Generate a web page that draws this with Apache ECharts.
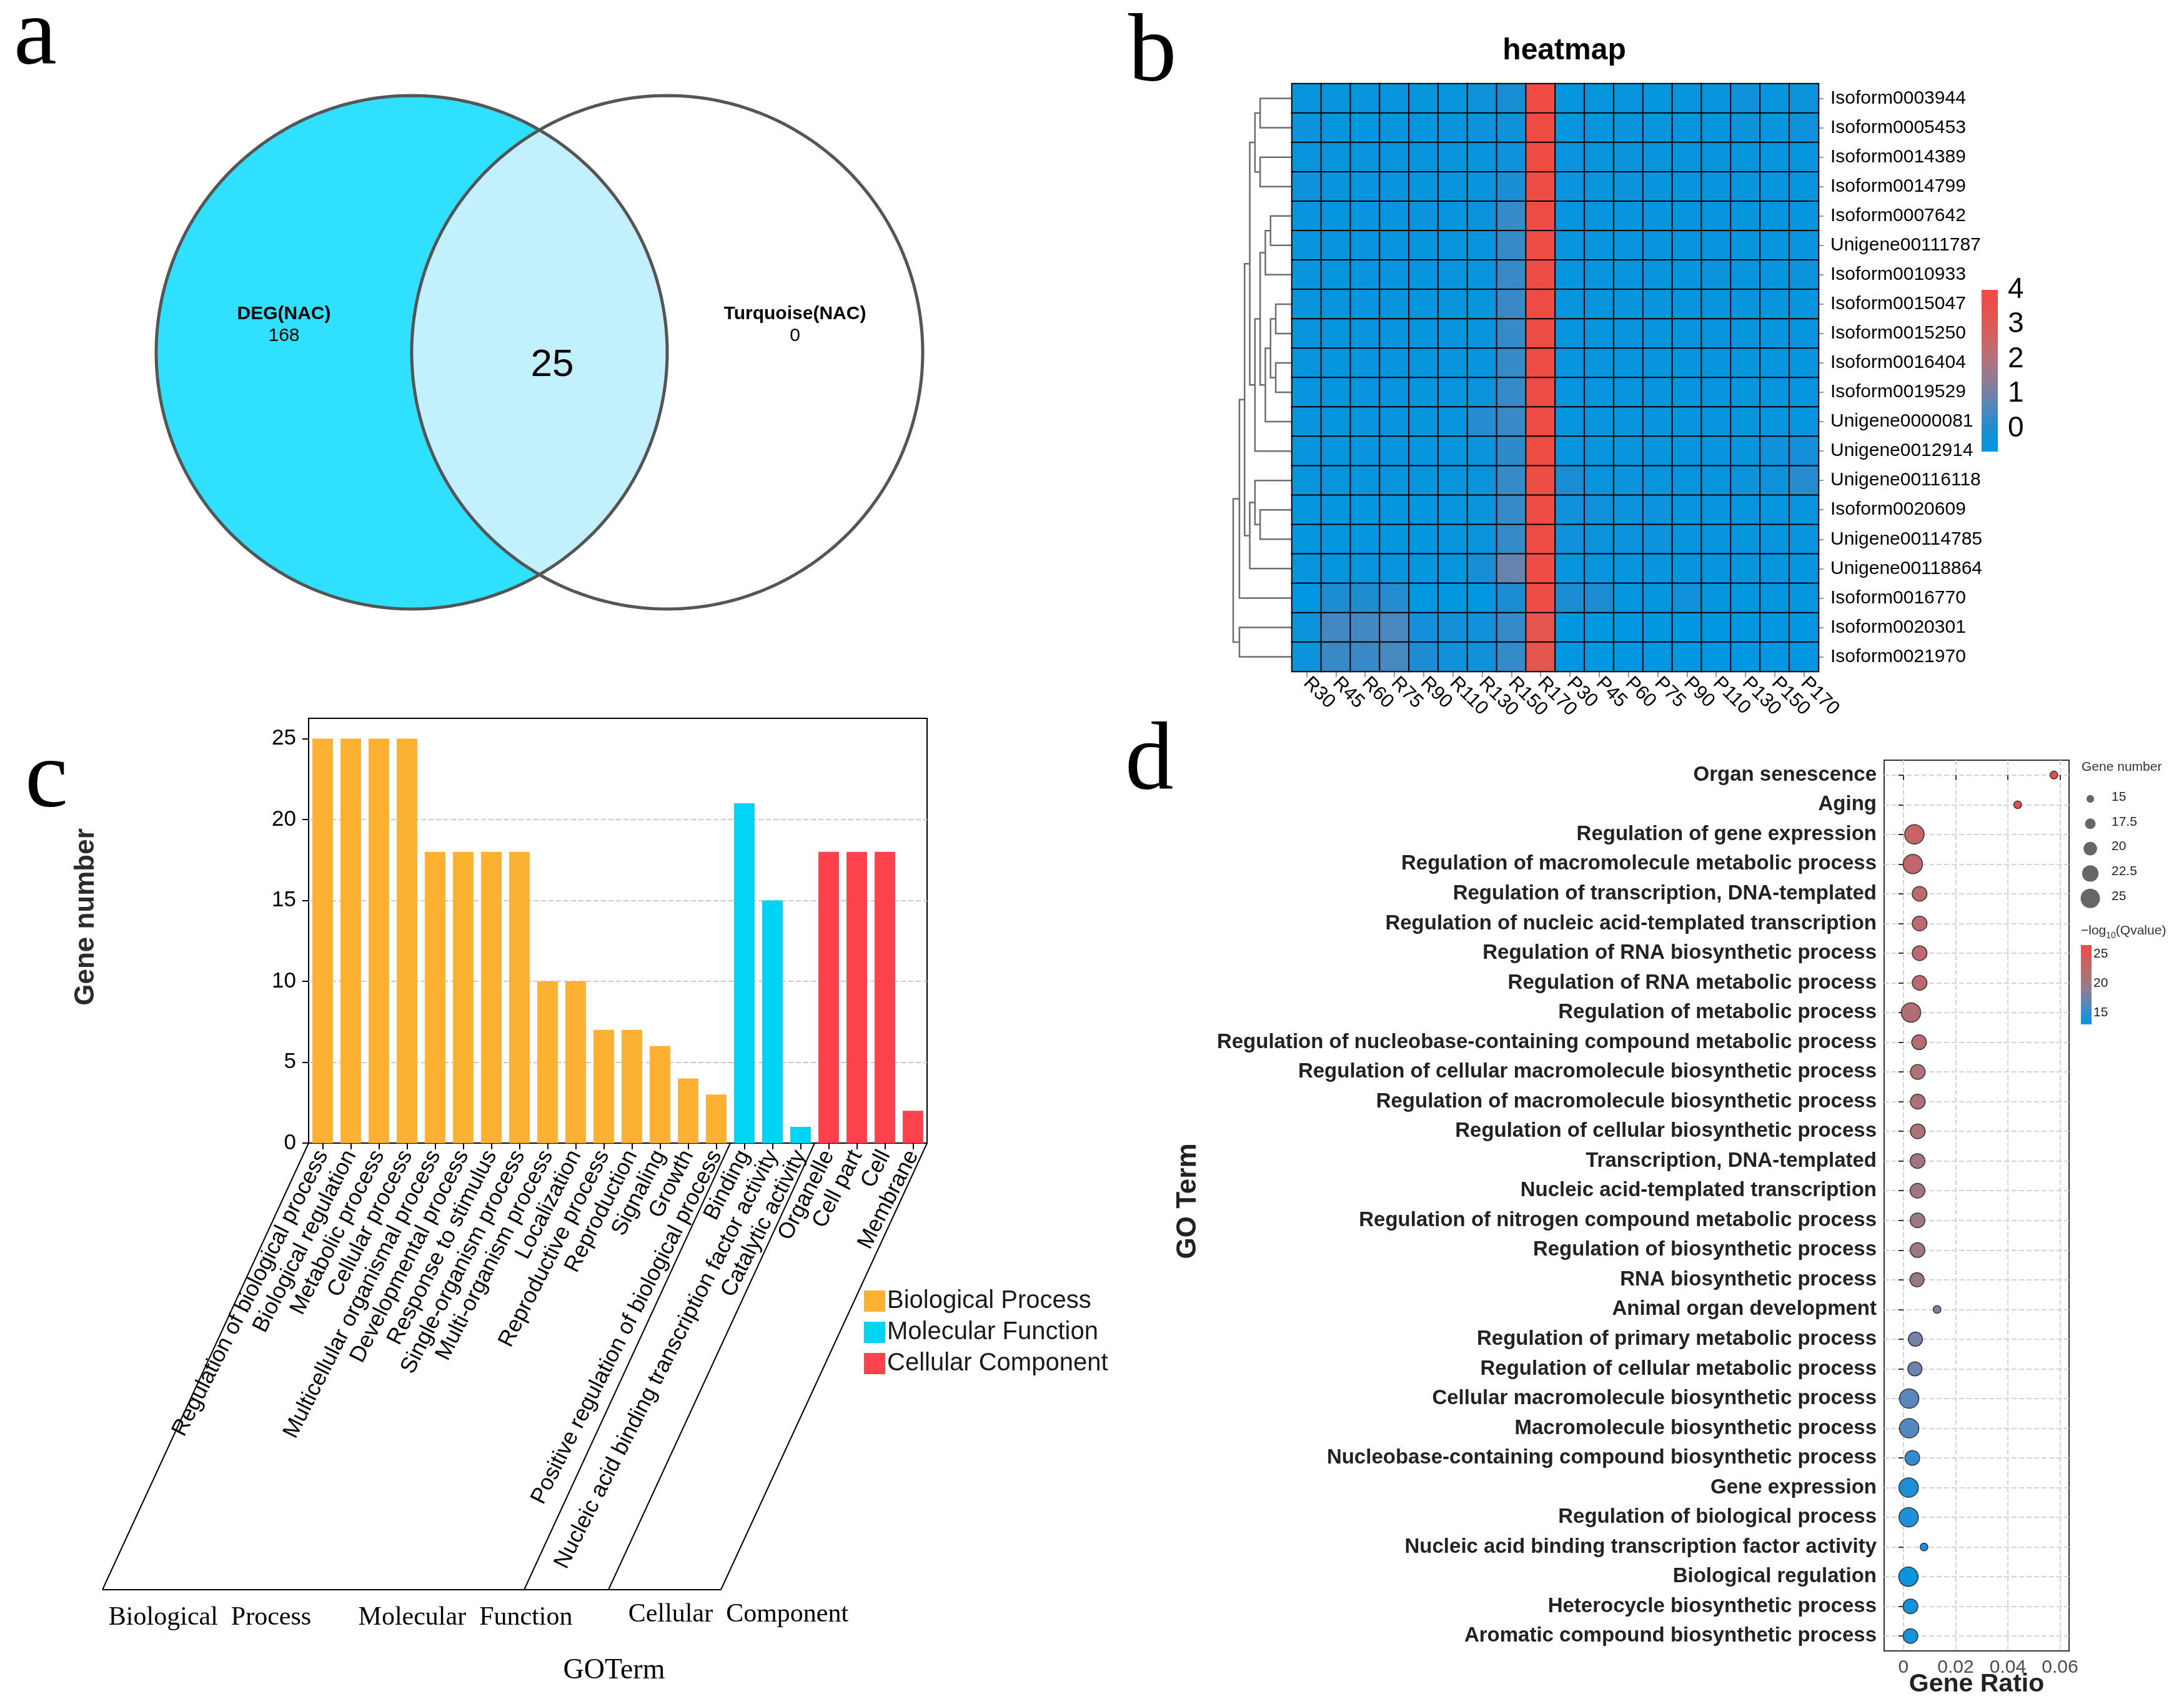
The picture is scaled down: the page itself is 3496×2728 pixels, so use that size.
<!DOCTYPE html>
<html><head><meta charset="utf-8">
<script src="https://cdn.jsdelivr.net/npm/echarts@6/dist/echarts.min.js"></script>
<style>html,body{margin:0;padding:0;background:#fff}#c{width:3496px;height:2728px}</style>
</head><body><div id="c"></div>
<script>
// ================= DATA =================
// (a) Venn
const vennSets = ['DEG(NAC)', 'Turquoise(NAC)'];
const vennOnly = [168, 0];
const vennShared = 25;

// (b) heatmap
const heatCols = ['R30','R45','R60','R75','R90','R110','R130','R150','R170','P30','P45','P60','P75','P90','P110','P130','P150','P170'];
const heatRows = ['Isoform0003944','Isoform0005453','Isoform0014389','Isoform0014799','Isoform0007642','Unigene00111787','Isoform0010933','Isoform0015047','Isoform0015250','Isoform0016404','Isoform0019529','Unigene0000081','Unigene0012914','Unigene00116118','Isoform0020609','Unigene00114785','Unigene00118864','Isoform0016770','Isoform0020301','Isoform0021970'];
const heatValues = [
 [-0.5,-0.5,-0.5,-0.5,-0.5,-0.5,-0.3,-0.1,4.0,-0.5,-0.5,-0.5,-0.55,-0.5,-0.5,-0.3,-0.5,-0.4],
 [-0.4,-0.5,-0.55,-0.5,-0.5,-0.45,-0.35,-0.3,4.0,-0.5,-0.5,-0.4,-0.5,-0.5,-0.5,-0.4,-0.5,-0.3],
 [-0.5,-0.5,-0.5,-0.5,-0.45,-0.5,-0.5,-0.3,4.0,-0.45,-0.5,-0.4,-0.5,-0.5,-0.5,-0.5,-0.5,-0.5],
 [-0.3,-0.5,-0.5,-0.45,-0.5,-0.5,-0.5,-0.05,3.95,-0.45,-0.5,-0.4,-0.5,-0.5,-0.5,-0.5,-0.5,-0.5],
 [-0.5,-0.5,-0.45,-0.5,-0.4,-0.5,-0.35,0.3,3.9,-0.5,-0.5,-0.5,-0.5,-0.5,-0.5,-0.5,-0.5,-0.5],
 [-0.5,-0.5,-0.5,-0.5,-0.5,-0.5,-0.45,0.3,3.9,-0.5,-0.5,-0.5,-0.5,-0.5,-0.5,-0.5,-0.5,-0.5],
 [-0.5,-0.5,-0.5,-0.5,-0.5,-0.5,-0.5,0.35,3.9,-0.5,-0.5,-0.5,-0.5,-0.5,-0.4,-0.5,-0.5,-0.4],
 [-0.5,-0.5,-0.5,-0.5,-0.5,-0.5,-0.5,0.35,3.9,-0.5,-0.45,-0.5,-0.5,-0.5,-0.5,-0.5,-0.5,-0.5],
 [-0.5,-0.5,-0.5,-0.5,-0.5,-0.5,-0.5,0.3,3.9,-0.5,-0.5,-0.45,-0.5,-0.5,-0.5,-0.5,-0.5,-0.5],
 [-0.5,-0.5,-0.5,-0.5,-0.5,-0.5,-0.5,0.3,3.9,-0.5,-0.5,-0.5,-0.5,-0.5,-0.5,-0.5,-0.5,-0.5],
 [-0.5,-0.5,-0.5,-0.5,-0.5,-0.5,-0.35,0.3,3.9,-0.5,-0.5,-0.5,-0.5,-0.5,-0.5,-0.5,-0.5,-0.5],
 [-0.5,-0.5,-0.5,-0.5,-0.5,-0.5,0.1,0.35,3.9,-0.5,-0.5,-0.5,-0.5,-0.5,-0.5,-0.5,-0.5,-0.5],
 [-0.5,-0.5,-0.5,-0.5,-0.5,-0.5,-0.35,0.2,3.9,-0.5,-0.5,-0.45,-0.5,-0.5,-0.5,-0.5,-0.3,-0.2],
 [-0.5,-0.5,-0.5,-0.5,-0.5,-0.5,-0.4,0.3,3.85,-0.05,-0.45,-0.4,-0.45,-0.45,-0.45,-0.35,-0.35,0.1],
 [-0.55,-0.55,-0.55,-0.55,-0.55,-0.5,-0.4,0.3,3.9,-0.25,-0.25,-0.4,-0.4,-0.5,-0.5,-0.5,-0.5,-0.5],
 [-0.55,-0.55,-0.55,-0.55,-0.55,-0.5,-0.4,0.3,3.9,-0.25,-0.4,-0.4,-0.35,-0.5,-0.5,-0.5,-0.5,-0.5],
 [-0.5,-0.5,-0.5,-0.5,-0.5,-0.5,-0.1,0.9,3.85,-0.5,-0.5,-0.5,-0.5,-0.5,-0.5,-0.5,-0.5,-0.5],
 [-0.62,0.0,0.05,0.1,-0.62,-0.62,-0.62,0.0,3.85,0.0,0.0,-0.55,-0.55,-0.25,-0.55,-0.55,-0.55,-0.55],
 [-0.35,0.45,0.45,0.55,-0.2,-0.2,-0.25,0.3,3.3,-0.62,-0.62,-0.62,-0.62,-0.62,-0.62,-0.62,-0.62,-0.62],
 [-0.4,0.35,0.35,0.5,0.0,-0.25,-0.25,0.3,3.3,-0.62,-0.62,-0.62,-0.62,-0.62,-0.62,-0.62,-0.62,-0.62]
];
// hierarchical clustering of rows: [childA, childB, height]; ids >= 20 are earlier merges
const dendroMerges = [
 [0,1,150],[2,3,150],[20,21,175],[4,5,100],[23,6,125],[7,8,75],[9,10,75],[25,26,100],
 [27,11,125],[24,28,150],[29,12,175],[22,30,200],[14,15,150],[13,32,175],[33,16,200],
 [31,34,225],[35,17,250],[18,19,250],[36,37,280]
];
const heatMin = -0.66, heatMax = 4;
const heatLegendTicks = [0,1,2,3,4];

// (c) GO bar chart
const goCats = ['Regulation of biological process','Biological regulation','Metabolic process','Cellular process','Multicellular organismal process','Developmental process','Response to stimulus','Single-organism process','Multi-organism process','Localization','Reproductive process','Reproduction','Signaling','Growth','Positive regulation of biological process','Binding','Nucleic acid binding transcription factor activity','Catalytic activity','Organelle','Cell part','Cell','Membrane'];
const goCounts = [25,25,25,25,18,18,18,18,10,10,7,7,6,4,3,21,15,1,18,18,18,2];
const goGroupOf = [0,0,0,0,0,0,0,0,0,0,0,0,0,0,0,1,1,1,2,2,2,2];
const goGroups = ['Biological Process','Molecular Function','Cellular Component'];
const goYTicks = [0,5,10,15,20,25];

// (d) GO enrichment bubble chart
const termNames = ['Organ senescence','Aging','Regulation of gene expression','Regulation of macromolecule metabolic process','Regulation of transcription, DNA-templated','Regulation of nucleic acid-templated transcription','Regulation of RNA biosynthetic process','Regulation of RNA metabolic process','Regulation of metabolic process','Regulation of nucleobase-containing compound metabolic process','Regulation of cellular macromolecule biosynthetic process','Regulation of macromolecule biosynthetic process','Regulation of cellular biosynthetic process','Transcription, DNA-templated','Nucleic acid-templated transcription','Regulation of nitrogen compound metabolic process','Regulation of biosynthetic process','RNA biosynthetic process','Animal organ development','Regulation of primary metabolic process','Regulation of cellular metabolic process','Cellular macromolecule biosynthetic process','Macromolecule biosynthetic process','Nucleobase-containing compound biosynthetic process','Gene expression','Regulation of biological process','Nucleic acid binding transcription factor activity','Biological regulation','Heterocycle biosynthetic process','Aromatic compound biosynthetic process'];
const termRatio = [0.0577,0.0438,0.0042,0.0036,0.0062,0.0062,0.0062,0.0062,0.0029,0.0060,0.0055,0.0055,0.0055,0.0054,0.0054,0.0054,0.0054,0.0052,0.0129,0.0046,0.0044,0.0022,0.0022,0.0034,0.0020,0.0020,0.0079,0.0019,0.0027,0.0027];
const termGenes = [15,15,25,25,21,21,21,21,25,21,21,21,21,21,21,21,21,20.5,15,20.5,20.5,25,25,21,25,25,15,25,21,21];
const termQ = [26.3,26.0,23.2,22.8,22.3,22.3,22.3,22.2,21.6,21.8,21.0,21.0,20.9,20.3,20.2,19.8,19.8,19.7,18.2,17.8,17.3,16.6,16.4,15.3,14.4,14.3,14.3,13.3,13.9,13.9];
const ratioTicks = [0,0.02,0.04,0.06];
const geneLegend = [15,17.5,20,22.5,25];
const qMin = 13, qMax = 26.5;
const qTicks = [15,20,25];

// ================= STYLE =================
const FONT = '"Liberation Sans", Arial, Helvetica, sans-serif';
const SERIF = '"Liberation Serif", "Times New Roman", serif';
const heatPalette = ['#0098E2','#1C8DD3','#5586BA','#8A7C98','#B4727A','#D26260','#E4544C','#EE4B43'];
const qPalette = ['#0096E0','#2A8ED6','#5E86B8','#8E7C96','#A8747A','#C0686A','#D65A5C','#EE4B45'];
const goColors = ['#FDB133','#00D4F5','#FE424D'];
const VENN_R = 1, VENN_D = 1;
function geneSize(g){ return 12.3 + (g - 15) * 1.87; }
function gradientStops(pal){ return pal.map((c,i)=>({offset:i/(pal.length-1), color:c})); }

// derived dendrogram node positions
const nLeaf = heatRows.length, nodeY = [], nodeH = [];
for (let i=0;i<nLeaf;i++){ nodeY[i]=i; nodeH[i]=0; }
dendroMerges.forEach((m,k)=>{ nodeY[nLeaf+k]=(nodeY[m[0]]+nodeY[m[1]])/2; nodeH[nLeaf+k]=m[2]; });

const heatData = [];
heatValues.forEach((row,ri)=>row.forEach((v,ci)=>heatData.push([ci,ri,v])));

function txt(x,y,text,o){
  o=o||{};
  return {type:'text', x:x, y:y, rotation:o.rot||0, z:50,
    style:{text:text, fontSize:o.size||30, fontFamily:o.family||FONT, fontWeight:o.weight||'normal',
      fill:o.color||'#000', align:o.align||'center', textAlign:o.align||'center',
      verticalAlign:o.va||'middle', textVerticalAlign:o.va||'middle', rich:o.rich}};
}

const gridBase = {outerBoundsMode:'none', containLabel:false};
const option = {
  animation:false,
  backgroundColor:'#fff',
  textStyle:{fontFamily:FONT},
  grid:[
    Object.assign({left:250, top:153, width:1227, height:822}, gridBase),   //0 venn
    Object.assign({left:1974, top:134, width:93, height:941}, gridBase),    //1 dendro
    Object.assign({left:2068, top:134, width:843, height:941}, gridBase),   //2 heat
    Object.assign({left:3172, top:464, width:26, height:259}, gridBase),    //3 heat colorbar
    Object.assign({left:494, top:1150, width:990, height:680, show:true, borderColor:'#000', borderWidth:2}, gridBase), //4 bar
    Object.assign({left:3016, top:1217, width:296, height:1426, show:true, borderColor:'#333', borderWidth:2}, gridBase), //5 bubble
    Object.assign({left:3331, top:1513, width:17, height:127}, gridBase)    //6 q colorbar
  ],
  xAxis:[
    {gridIndex:0, type:'value', min:-1.5, max:1.5, show:false},
    {gridIndex:1, type:'value', min:0, max:280, inverse:true, show:false},
    {gridIndex:2, type:'category', data:heatCols, position:'bottom',
      axisLine:{show:false}, splitLine:{show:false},
      axisTick:{show:true, alignWithLabel:true, length:9, lineStyle:{color:'#999', width:2}},
      axisLabel:{rotate:-45, interval:0, fontSize:31, color:'#000', margin:14, fontFamily:FONT}},
    {gridIndex:3, type:'value', min:0, max:1, show:false},
    {gridIndex:4, type:'category', data:goCats,
      axisLine:{show:true, lineStyle:{color:'#000', width:2}},
      axisTick:{show:true, alignWithLabel:true, length:10, lineStyle:{color:'#000', width:2}},
      axisLabel:{rotate:63, interval:0, fontSize:36, color:'#000', margin:14, fontFamily:FONT},
      splitLine:{show:false}},
    {gridIndex:5, type:'value', min:-0.0074, max:0.0635,
      axisLine:{show:false},
      axisTick:{show:true, customValues:ratioTicks, length:8, lineStyle:{color:'#333', width:2}},
      axisLabel:{customValues:ratioTicks, formatter:function(v){return v===0?'0':String(+(+v).toFixed(2));}, fontSize:30, color:'#4d4d4d', margin:12, fontFamily:FONT},
      splitLine:{show:true, lineStyle:{type:'dashed', color:'#d4d4d4', width:2}}},
    {gridIndex:6, type:'value', min:0, max:1, show:false}
  ],
  yAxis:[
    {gridIndex:0, type:'value', min:-1, max:1, show:false},
    {gridIndex:1, type:'value', min:-0.5, max:nLeaf-0.5, inverse:true, show:false},
    {gridIndex:2, type:'category', data:heatRows, inverse:true, position:'right',
      axisLine:{show:false}, splitLine:{show:false},
      axisTick:{show:true, alignWithLabel:true, length:8, lineStyle:{color:'#999', width:2}},
      axisLabel:{fontSize:30, color:'#000', margin:19, fontFamily:FONT, padding:[0,0,14,0]}},
    {gridIndex:3, type:'value', min:heatMin, max:heatMax, position:'right',
      axisLine:{show:false}, splitLine:{show:false},
      axisTick:{show:true, inside:true, customValues:heatLegendTicks, length:5, lineStyle:{color:'#fff', width:2}},
      axisLabel:{customValues:heatLegendTicks, fontSize:46, color:'#000', margin:16, fontFamily:FONT, padding:[0,0,22,0]}},
    {gridIndex:4, type:'value', min:0, max:26.25,
      axisLine:{show:false},
      axisTick:{show:true, customValues:goYTicks, length:10, lineStyle:{color:'#000', width:2}},
      axisLabel:{customValues:goYTicks, fontSize:35, color:'#000', margin:20, fontFamily:FONT},
      splitLine:{show:true, showMinLine:false, showMaxLine:false, lineStyle:{type:'dashed', color:'#cccccc', width:2}}},
    {gridIndex:5, type:'value', min:-0.5, max:termNames.length-0.5, inverse:true,
      axisLine:{show:false},
      axisTick:{show:true, customValues:termNames.map((n,i)=>i), length:8, lineStyle:{color:'#333', width:2}},
      axisLabel:{customValues:termNames.map((n,i)=>i), formatter:function(v){return termNames[Math.round(v)];}, fontSize:33, fontWeight:'bold', color:'#222', margin:12, fontFamily:FONT},
      splitLine:{show:true, lineStyle:{type:'dashed', color:'#d4d4d4', width:2}}},
    {gridIndex:6, type:'value', min:qMin, max:qMax, position:'right',
      axisLine:{show:false}, splitLine:{show:false},
      axisTick:{show:true, inside:true, customValues:qTicks, length:4, lineStyle:{color:'#fff', width:2}},
      axisLabel:{customValues:qTicks, fontSize:21, color:'#222', margin:3, fontFamily:FONT}}
  ],
  visualMap:[
    {show:false, type:'continuous', seriesIndex:2, dimension:2, min:heatMin, max:heatMax, inRange:{color:heatPalette}},
    {show:false, type:'continuous', seriesIndex:8, dimension:3, min:qMin, max:qMax, inRange:{color:qPalette}}
  ],
  legend:{
    data:goGroups, orient:'vertical', left:1378, top:2058, itemWidth:34, itemHeight:34, itemGap:10,
    icon:'rect', selectedMode:false, textStyle:{fontSize:40, color:'#1a1a1a', fontFamily:FONT, padding:[0,0,0,-2]}
  },
  series:[
    // 0 Venn
    {type:'custom', xAxisIndex:0, yAxisIndex:0, silent:true, data:[[0,0]],
     renderItem:function(params, api){
       const ux = api.size([1,0])[0], uy = api.size([0,1])[1];
       const c0 = api.coord([0,0]);
       const P = (x,y)=>[c0[0]+x*ux, c0[1]-y*uy];
       const cxs = [-VENN_D/2, VENN_D/2];
       const circ = cx=>{const pts=[]; for(let k=0;k<240;k++){const t=k/240*2*Math.PI; pts.push(P(cx+VENN_R*Math.cos(t), VENN_R*Math.sin(t)));} return pts;};
       const a = Math.acos((VENN_D/2)/VENN_R);
       const lens=[];
       for(let k=0;k<=80;k++){const t=a-2*a*k/80; lens.push(P(cxs[0]+VENN_R*Math.cos(t), VENN_R*Math.sin(t)));}
       for(let k=0;k<=80;k++){const t=Math.PI+a-2*a*k/80; lens.push(P(cxs[1]+VENN_R*Math.cos(t), VENN_R*Math.sin(t)));}
       const ch = [
         {type:'polygon', shape:{points:circ(cxs[0])}, style:{fill:'#30E0FF'}},
         {type:'polygon', shape:{points:lens}, style:{fill:'#C2F0FC'}},
         {type:'polygon', shape:{points:circ(cxs[0])}, style:{fill:null, stroke:'#555', lineWidth:5}},
         {type:'polygon', shape:{points:circ(cxs[1])}, style:{fill:null, stroke:'#555', lineWidth:5}}
       ];
       const lx = [cxs[0]-VENN_R*0.5, cxs[1]+VENN_R*0.5];
       vennSets.forEach((s,i)=>{
         const p1=P(lx[i],0.15), p2=P(lx[i],0.065);
         ch.push({type:'text', x:p1[0], y:p1[1], style:{text:s, fontSize:30, fontWeight:'bold', fontFamily:FONT, fill:'#000', align:'center', textAlign:'center', verticalAlign:'middle', textVerticalAlign:'middle'}});
         ch.push({type:'text', x:p2[0], y:p2[1], style:{text:String(vennOnly[i]), fontSize:30, fontFamily:FONT, fill:'#000', align:'center', textAlign:'center', verticalAlign:'middle', textVerticalAlign:'middle'}});
       });
       const ps = P(0.05,-0.05);
       ch.push({type:'text', x:ps[0], y:ps[1], style:{text:String(vennShared), fontSize:62, fontFamily:FONT, fill:'#000', align:'center', textAlign:'center', verticalAlign:'middle', textVerticalAlign:'middle'}});
       return {type:'group', children:ch};
     }},
    // 1 dendrogram
    {type:'custom', xAxisIndex:1, yAxisIndex:1, silent:true,
     data:dendroMerges.map((m,k)=>[m[2],k]),
     encode:{x:0, y:1},
     renderItem:function(params, api){
       const m = dendroMerges[params.dataIndex];
       const a=m[0], b=m[1], h=m[2];
       const pts=[[nodeH[a],nodeY[a]],[h,nodeY[a]],[h,nodeY[b]],[nodeH[b],nodeY[b]]].map(p=>api.coord(p));
       return {type:'polyline', shape:{points:pts}, style:{stroke:'#6e6e6e', lineWidth:2.5, fill:null}};
     }},
    // 2 heatmap
    {type:'heatmap', xAxisIndex:2, yAxisIndex:2, data:heatData,
     itemStyle:{borderColor:'#000', borderWidth:2}, emphasis:{disabled:true}},
    // 3 heat colorbar
    {type:'custom', xAxisIndex:3, yAxisIndex:3, silent:true, data:[[0,0]],
     renderItem:function(params, api){
       const p0=api.coord([0,heatMax]), p1=api.coord([1,heatMin]);
       return {type:'rect', shape:{x:p0[0], y:p0[1], width:p1[0]-p0[0], height:p1[1]-p0[1]},
         style:{fill:new echarts.graphic.LinearGradient(0,1,0,0, gradientStops(heatPalette))}};
     }},
    // 4-6 bars
    ...goGroups.map((g,gi)=>({
      type:'bar', name:g, xAxisIndex:4, yAxisIndex:4, stack:'go', barWidth:'73%',
      itemStyle:{color:goColors[gi]}, emphasis:{disabled:true},
      data:goCounts.map((v,i)=>goGroupOf[i]===gi?v:'-')
    })),
    // 7 slanted category-group lines under the bar chart
    {type:'custom', xAxisIndex:4, yAxisIndex:4, silent:true, data:[[0,0]], z:10,
     renderItem:function(params, api){
       const band = api.size([1,0])[0];
       const y0 = api.coord([0,0])[1];
       const xs=[];
       goGroupOf.forEach((g,i)=>{ if(i===0||goGroupOf[i-1]!==g) xs.push(api.coord([i,0])[0]-band/2); });
       xs.push(api.coord([goCats.length-1,0])[0]+band/2);
       const DX=330, DY=715;
       const ch = xs.map(x=>({type:'line', shape:{x1:x, y1:y0, x2:x-DX, y2:y0+DY}, style:{stroke:'#000', lineWidth:2}}));
       ch.push({type:'line', shape:{x1:xs[0]-DX, y1:y0+DY, x2:xs[xs.length-1]-DX, y2:y0+DY}, style:{stroke:'#000', lineWidth:2}});
       return {type:'group', children:ch};
     }},
    // 8 bubbles
    {type:'scatter', xAxisIndex:5, yAxisIndex:5,
     data:termNames.map((n,i)=>[termRatio[i], i, termGenes[i], termQ[i]]),
     symbolSize:function(v){return geneSize(v[2]);},
     itemStyle:{borderColor:'#333', borderWidth:1.5, opacity:1}, emphasis:{disabled:true}},
    // 9 gene-number size legend
    {type:'custom', coordinateSystem:'none', silent:true, data:geneLegend.map(v=>[v]),
     renderItem:function(params, api){
       const i=params.dataIndex, v=geneLegend[i];
       const cx=3346, cy=1279+i*39.8;
       return {type:'group', children:[
         {type:'circle', shape:{cx:cx, cy:cy, r:geneSize(v)/2}, style:{fill:'#666'}},
         {type:'text', x:cx+34, y:cy-3, style:{text:String(v), fontSize:21, fontFamily:FONT, fill:'#222', align:'left', textAlign:'left', verticalAlign:'middle', textVerticalAlign:'middle'}}
       ]};
     }},
    // 10 q colorbar
    {type:'custom', xAxisIndex:6, yAxisIndex:6, silent:true, data:[[0,0]],
     renderItem:function(params, api){
       const p0=api.coord([0,qMax]), p1=api.coord([1,qMin]);
       return {type:'rect', shape:{x:p0[0], y:p0[1], width:p1[0]-p0[0], height:p1[1]-p0[1]},
         style:{fill:new echarts.graphic.LinearGradient(0,1,0,0, gradientStops(qPalette))}};
     }}
  ],
  graphic:[
    txt(22,60,'a',{size:155, family:SERIF, align:'left'}),
    txt(1806,87,'b',{size:155, family:SERIF, align:'left'}),
    txt(40,1249,'c',{size:155, family:SERIF, align:'left'}),
    txt(1801,1221,'d',{size:155, family:SERIF, align:'left'}),
    txt(2504,82,'heatmap',{size:48, weight:'bold'}),
    txt(138,1468,'Gene number',{size:44, weight:'bold', color:'#2b2b2b', rot:Math.PI/2}),
    txt(336,2590,'Biological  Process',{size:42, family:SERIF}),
    txt(745,2590,'Molecular  Function',{size:42, family:SERIF}),
    txt(1182,2585,'Cellular  Component',{size:42, family:SERIF}),
    txt(983,2675,'GOTerm',{size:46, family:SERIF}),
    txt(1902,1923,'GO Term',{size:44, weight:'bold', color:'#222', rot:Math.PI/2}),
    txt(3164,2697,'Gene Ratio',{size:41, weight:'bold', color:'#222'}),
    txt(3332,1228,'Gene number',{size:21, color:'#333', align:'left'}),
    txt(3331,1490,'{m|\u2212log}{s|10}{m|(Qvalue)}',{size:21, color:'#333', align:'left',
      rich:{m:{fontSize:21, fontFamily:FONT, fill:'#333', color:'#333', lineHeight:30, verticalAlign:'middle'},
            s:{fontSize:14, fontFamily:FONT, fill:'#333', color:'#333', lineHeight:30, verticalAlign:'bottom'}}})
  ]
};
const chart = echarts.init(document.getElementById('c'), null, {renderer:'canvas', width:3496, height:2728});
chart.setOption(option);
</script>
</body></html>
